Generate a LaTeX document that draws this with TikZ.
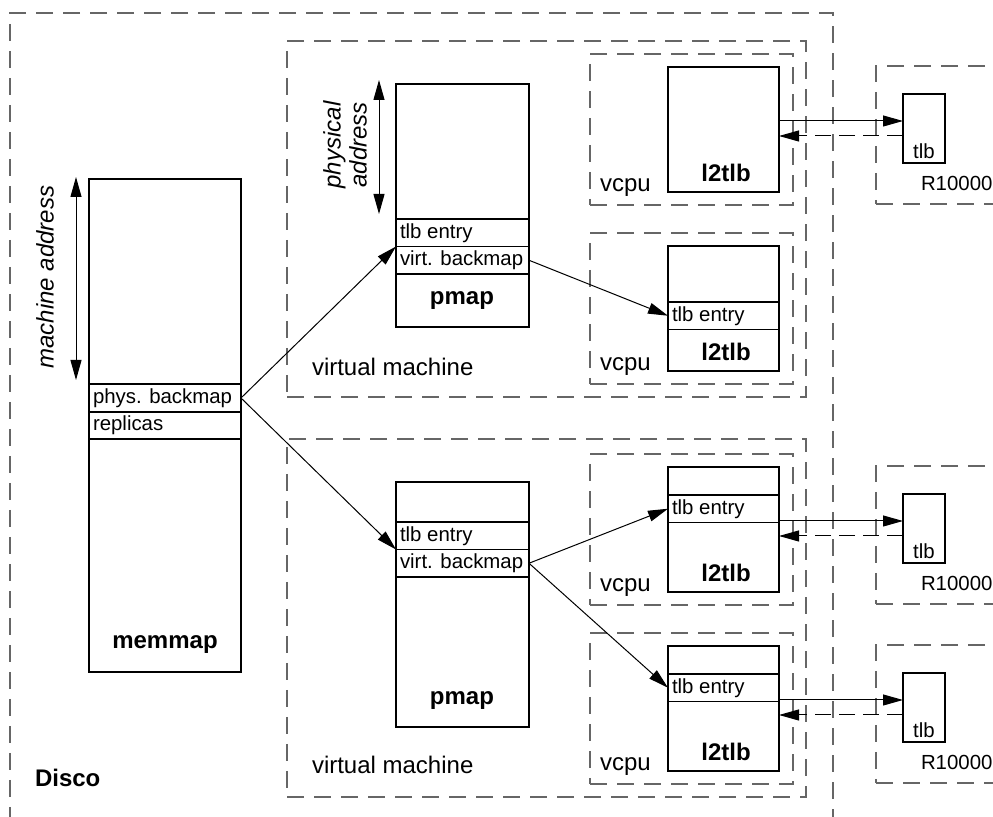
\documentclass[tikz,border=0pt]{standalone}
\usepackage{fontspec}
\setmainfont{Liberation Sans}
\usetikzlibrary{fit,arrows.meta}

\tikzset{
  solidbox/.style={draw, line width=0.8pt},
  dashbox/.style={draw=black!60, line width=0.6pt, dash pattern=on 8.5pt off 5pt},
  small/.style={font=\fontsize{10.2}{12}\selectfont},
  big/.style={font=\fontsize{12}{13}\selectfont},
  bigbold/.style={font=\fontsize{12}{13}\selectfont\bfseries},
  ptr/.style={-{Triangle[length=10pt,width=5.5pt]}, line width=0.5pt},
  dblptr/.style={{Triangle[length=10pt,width=5.5pt]}-{Triangle[length=10pt,width=5.5pt]}, line width=0.5pt},
}

\begin{document}
\begin{tikzpicture}[x=0.5pt, y=-0.5pt, every node/.style={inner sep=0pt, outer sep=0pt}]
    \clip (0,0) rectangle (993,817);

    % Disco and the two virtual machines
    \node[dashbox, fit={(10,13) (833,840)}] (disco) {};
    \node[bigbold, anchor=west] (discoLbl) at (35,778) {Disco};
    \node[dashbox, fit={(287,41) (806,397)}] (vmA) {};
    \node[dashbox, fit={(287,439) (806,797)}] (vmB) {};
    \node[big, anchor=west] (vmAlbl) at (312,367) {virtual machine};
    \node[big, anchor=west] (vmBlbl) at (312,765) {virtual machine};

    % memmap
    \node[solidbox, fit={(89,179) (241,672)}] (memmap) {};
    \node[solidbox, fit={(89,384) (241,412)}] (mmPhys) {};
    \node[solidbox, fit={(89,412) (241,439)}] (mmRepl) {};
    \node[small, anchor=west] (mmPhysTxt) at ([xshift=2pt]mmPhys.west) {phys. backmap};
    \node[small, anchor=west] (mmReplTxt) at ([xshift=2pt]mmRepl.west) {replicas};
    \node[bigbold] (memmapLbl) at (165,645) {memmap};

    \coordinate (maTop) at (76,177);
    \coordinate (maBot) at (76,380);
    \draw[dblptr] (maTop) -- (maBot);
    \node[big, rotate=90] (maLbl) at (45,277) {\itshape machine address};

    % pmaps
    \foreach \p/\t/\b/\r in {A/84/327/219, B/482/727/522} {
        \node[solidbox, fit={(396,\t) (529,\b)}] (pmap\p) {};
        \node[solidbox, fit={(396,\r) (529,\r+27.5)}] (pmap\p-tlb) {};
        \node[solidbox, fit={(396,\r+27.5) (529,\r+55)}] (pmap\p-virt) {};
        \node[small, anchor=west] (pmap\p-t1) at ([xshift=2pt]pmap\p-tlb.west) {tlb entry};
        \node[small, anchor=west] (pmap\p-t2) at ([xshift=2pt]pmap\p-virt.west) {virt. backmap};
        \node[bigbold] (pmap\p-lbl) at (462,\b-26) {pmap};
    }

    \coordinate (paTop) at (379,80);
    \coordinate (paBot) at (379,214);
    \draw[dblptr] (paTop) -- (paBot);
    \node[big, rotate=90, align=center, font=\fontsize{12}{13}\selectfont\itshape] (paLbl) at (345,145) {physical\\address};

    % vcpus
    \foreach \v/\t in {1/54, 2/233, 3/454, 4/633} {
        \node[dashbox, fit={(590,\t) (793,\t+151)}] (vcpu\v) {};
        \node[solidbox, fit={(668,\t+13) (779,\t+138)}] (l2tlb\v) {};
        \node[big, anchor=west] (vcpuLbl\v) at (600,\t+134) {vcpu};
        \node[bigbold] (l2tlbLbl\v) at (726,\t+119) {l2tlb};
    }
    \foreach \v/\r in {2/302, 3/495, 4/674} {
        \node[solidbox, fit={(668,\r) (779,\r+27.5)}] (l2tlb\v-tlb) {};
        \node[small, anchor=west] (l2tlb\v-txt) at ([xshift=2pt]l2tlb\v-tlb.west) {tlb entry};
    }

    % R10000
    \foreach \v/\t in {1/54, 3/454, 4/633} {
        \node[dashbox, fit={(876,\t+12) (1010,\t+150)}] (cpu\v) {};
        \node[solidbox, fit={(903,\t+40) (945,\t+109)}] (tlb\v) {};
        \node[small] (tlbLbl\v) at (924,\t+97) {tlb};
        \node[small, anchor=west] (cpuLbl\v) at (921,\t+129) {R10000};
        \draw[ptr] (l2tlb\v.east |- 0,\t+67) -- (tlb\v.west |- 0,\t+67);
        \draw[ptr, dash pattern=on 8pt off 4pt] (tlb\v.west |- 0,\t+82) -- (l2tlb\v.east |- 0,\t+82);
    }

    % connectors
    \draw[ptr] (mmPhys.east) -- (pmapA-tlb.south west);
    \draw[ptr] (mmPhys.east) -- (pmapB-tlb.south west);
    \draw[ptr] (pmapA-virt.east) -- (l2tlb2-tlb.west);
    \draw[ptr] (pmapB-virt.east) -- (l2tlb3-tlb.west);
    \draw[ptr] (pmapB-virt.east) -- (l2tlb4-tlb.west);
\end{tikzpicture}
\end{document}
